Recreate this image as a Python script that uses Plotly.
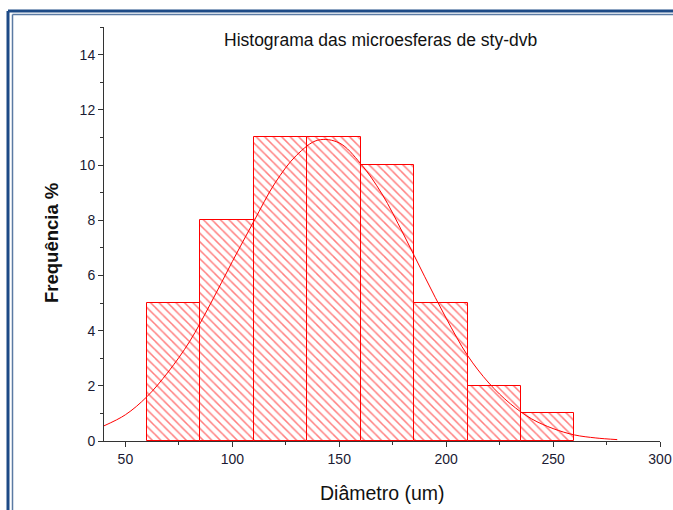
import plotly.graph_objects as go

# ---- data ----
bin_starts = [60, 85, 110, 135, 160, 185, 210, 235]
bin_width = 25
frequencies = [5, 8, 11, 11, 10, 5, 2, 1]

fit_x = [40, 50, 60, 70, 80, 90, 100, 110, 120, 130, 140, 150, 160, 170, 180,
         190, 200, 210, 220, 230, 240, 250, 260, 270, 280]
fit_y = [0.55, 0.95, 1.6, 2.5, 3.6, 5.0, 6.5, 7.95, 9.35, 10.35, 10.9, 10.8, 10.05,
         8.95, 7.5, 5.95, 4.45, 3.1, 2.1, 1.35, 0.8, 0.45, 0.22, 0.11, 0.05]

x_ticks = [50, 100, 150, 200, 250, 300]
y_ticks = [0, 2, 4, 6, 8, 10, 12, 14]

title_text = "Histograma das microesferas de sty-dvb"
x_title = "Diâmetro (um)"
y_title = "Frequência %"

# ---- layout geometry (pixels) ----
W, H = 673, 510
ML, MR, MT, MB = 104, 13, 27, 69
PW, PH = W - ML - MR, H - MT - MB


def px(x):
    return (x - ML) / PW


def py(y):
    return (H - MB - y) / PH


FONT = "Liberation Sans, Arial, sans-serif"

fig = go.Figure()
fig.add_trace(go.Bar(
    x=bin_starts, y=frequencies, width=[bin_width] * len(bin_starts), offset=0,
    marker=dict(color="white", line=dict(color="#ff0000", width=1),
                pattern=dict(shape="\\", fgcolor="#ff0000", bgcolor="white",
                             size=6, solidity=0.25)),
    showlegend=False,
))
fig.add_trace(go.Scatter(
    x=fit_x, y=fit_y, mode="lines", line=dict(color="#ff0000", width=1, shape="spline"),
    showlegend=False,
))

axis_common = dict(showgrid=False, zeroline=False, showline=True, linecolor="#333333",
                   linewidth=1, ticks="outside", ticklen=5, tickcolor="#333333",
                   automargin=False,
                   tickfont=dict(family=FONT, size=14, color="#1a1a33"))

fig.update_xaxes(range=[40, 300], tickvals=x_ticks,
                 minor=dict(dtick=25, tick0=0, ticks="outside", ticklen=3, tickcolor="#333333"),
                 **axis_common)
fig.update_yaxes(range=[0, 15], tickvals=y_ticks,
                 minor=dict(dtick=1, tick0=0, ticks="outside", ticklen=3, tickcolor="#333333"),
                 **axis_common)

lines = [
    # outer thick frame
    dict(x0=px(8), y0=py(11), x1=px(8), y1=py(H), color="#1d4a86", width=3),
    dict(x0=px(8), y0=py(11), x1=px(W), y1=py(11), color="#1d4a86", width=3),
    # inner thin frame
    dict(x0=px(12.5), y0=py(14.5), x1=px(12.5), y1=py(H), color="#5a7aa3", width=1.5),
    dict(x0=px(12.5), y0=py(14.5), x1=px(W), y1=py(14.5), color="#5a7aa3", width=1.5),
]
shapes = [dict(type="line", xref="paper", yref="paper", x0=l["x0"], y0=l["y0"],
               x1=l["x1"], y1=l["y1"], line=dict(color=l["color"], width=l["width"]))
          for l in lines]

annotations = [
    dict(text=title_text, xref="paper", yref="paper", x=px(380), y=py(40),
         xanchor="center", yanchor="middle", showarrow=False,
         font=dict(family=FONT, size=17.5, color="#111111")),
    dict(text=x_title, xref="paper", yref="paper", x=px(382), y=py(493),
         xanchor="center", yanchor="middle", showarrow=False,
         font=dict(family=FONT, size=19.5, color="#111111")),
    dict(text="<b>" + y_title + "</b>", xref="paper", yref="paper", x=px(51), y=py(243),
         xanchor="center", yanchor="middle", showarrow=False, textangle=-90,
         font=dict(family=FONT, size=18.5, color="#111111")),
]

fig.update_layout(
    width=W, height=H, margin=dict(l=ML, r=MR, t=MT, b=MB, autoexpand=False),
    paper_bgcolor="white", plot_bgcolor="white",
    shapes=shapes, annotations=annotations, bargap=0,
    font=dict(family=FONT),
)

fig.write_html(
    "out.html",
    config={"displayModeBar": False},
    post_script="document.body.style.margin='0';document.body.style.overflow='hidden';",
)
